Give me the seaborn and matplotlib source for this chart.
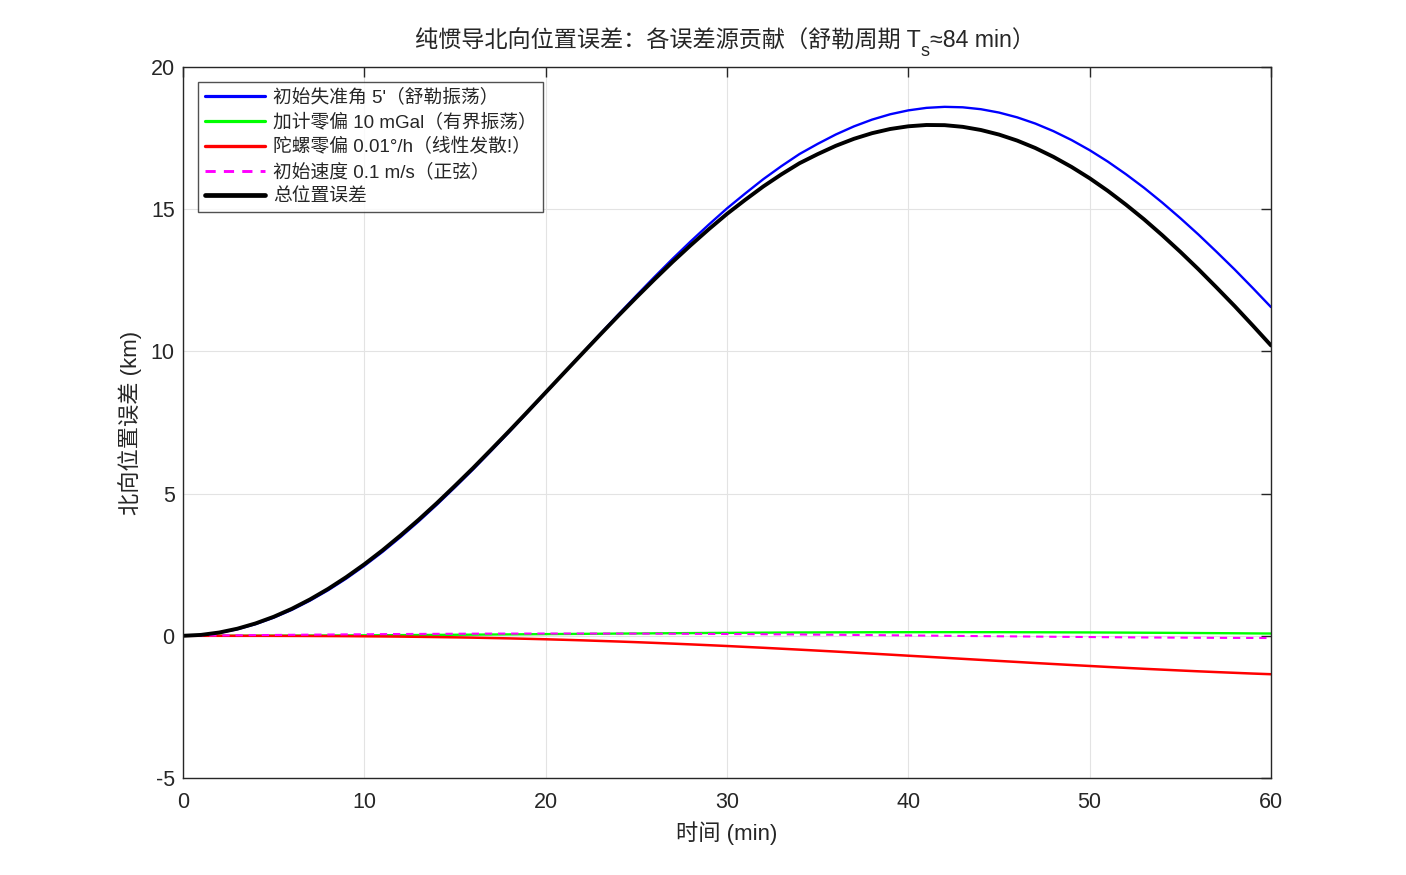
import pandas as pd
import seaborn as sns
import matplotlib.pyplot as plt

# time grid (min) and error curves (km), 1 min apart
t_min = list(range(0, 61))

err_misalign = [0.000, 0.026, 0.103, 0.231, 0.409, 0.637, 0.912, 1.235, 1.601, 2.010,
                2.461, 2.948, 3.473, 4.026, 4.610, 5.223, 5.851, 6.507, 7.172, 7.852,
                8.540, 9.232, 9.923, 10.612, 11.293, 11.962, 12.618, 13.257, 13.871, 14.461,
                15.028, 15.550, 16.055, 16.514, 16.941, 17.297, 17.627, 17.912, 18.150, 18.338,
                18.475, 18.563, 18.599, 18.583, 18.516, 18.398, 18.230, 18.012, 17.745, 17.432,
                17.075, 16.674, 16.230, 15.752, 15.234, 14.685, 14.108, 13.500, 12.877, 12.225,
                11.558]

err_accel = [0.000, 0.000, 0.001, 0.002, 0.003, 0.004, 0.006, 0.009, 0.011, 0.014,
             0.017, 0.020, 0.024, 0.028, 0.032, 0.036, 0.040, 0.045, 0.049, 0.054,
             0.059, 0.064, 0.068, 0.073, 0.078, 0.082, 0.087, 0.091, 0.095, 0.100,
             0.103, 0.107, 0.110, 0.114, 0.117, 0.119, 0.121, 0.123, 0.125, 0.126,
             0.127, 0.128, 0.128, 0.128, 0.127, 0.127, 0.125, 0.124, 0.122, 0.120,
             0.118, 0.115, 0.112, 0.108, 0.105, 0.101, 0.097, 0.093, 0.089, 0.084,
             0.080]

err_gyro = [0.000, -0.000, -0.000, -0.001, -0.001, -0.002, -0.004, -0.006, -0.009, -0.012,
            -0.017, -0.022, -0.028, -0.036, -0.045, -0.054, -0.065, -0.078, -0.091, -0.106,
            -0.122, -0.140, -0.159, -0.180, -0.201, -0.224, -0.249, -0.275, -0.302, -0.330,
            -0.359, -0.390, -0.421, -0.454, -0.487, -0.521, -0.555, -0.591, -0.627, -0.663,
            -0.700, -0.736, -0.773, -0.810, -0.847, -0.884, -0.920, -0.957, -0.992, -1.027,
            -1.061, -1.095, -1.128, -1.160, -1.190, -1.220, -1.249, -1.276, -1.302, -1.328,
            -1.351]

err_vel = [0.000, 0.006, 0.012, 0.018, 0.024, 0.029, 0.035, 0.040, 0.045, 0.050,
           0.054, 0.059, 0.063, 0.066, 0.069, 0.072, 0.075, 0.077, 0.078, 0.079,
           0.080, 0.080, 0.080, 0.079, 0.078, 0.077, 0.075, 0.073, 0.070, 0.067,
           0.063, 0.059, 0.055, 0.051, 0.046, 0.041, 0.036, 0.030, 0.025, 0.019,
           0.013, 0.007, 0.001, -0.005, -0.011, -0.017, -0.022, -0.028, -0.034, -0.039,
           -0.044, -0.049, -0.054, -0.058, -0.062, -0.065, -0.069, -0.072, -0.074, -0.076,
           -0.078]

err_total = [0.000, 0.032, 0.116, 0.250, 0.435, 0.668, 0.949, 1.278, 1.648, 2.062,
             2.515, 3.005, 3.532, 4.084, 4.666, 5.277, 5.901, 6.551, 7.208, 7.879,
             8.557, 9.236, 9.912, 10.585, 11.248, 11.897, 12.531, 13.147, 13.734, 14.298,
             14.835, 15.327, 15.799, 16.225, 16.617, 16.936, 17.229, 17.475, 17.673, 17.820,
             17.915, 17.961, 17.955, 17.896, 17.785, 17.624, 17.413, 17.152, 16.841, 16.486,
             16.088, 15.645, 15.160, 14.643, 14.087, 13.501, 12.887, 12.245, 11.590, 10.906,
             10.209]

labels = ["初始失准角 5'（舒勒振荡）",
          "加计零偏 10 mGal（有界振荡）",
          "陀螺零偏 0.01°/h（线性发散!）",
          "初始速度 0.1 m/s（正弦）",
          "总位置误差"]
series = [err_misalign, err_accel, err_gyro, err_vel, err_total]

frames = [pd.DataFrame({'t': t_min, 'err': s, 'src': lab}) for s, lab in zip(series, labels)]
df = pd.concat(frames, ignore_index=True)

sns.set_style("white")
plt.rcParams['font.family'] = ['Liberation Sans', 'Noto Sans CJK SC', 'DejaVu Sans']
plt.rcParams['axes.unicode_minus'] = False

fig = plt.figure(figsize=(14.06, 8.75), dpi=100)
ax = fig.add_axes([183 / 1406, 1 - 778 / 875, (1271 - 183) / 1406, (778 - 67) / 875])

colors = ['#0000ff', '#00ff00', '#ff0000', '#ff00ff', '#000000']
widths = [1.7, 1.7, 1.8, 1.5, 2.8]

for lab, c, lw in zip(labels, colors, widths):
    sub = df[df['src'] == lab]
    sns.lineplot(data=sub, x='t', y='err', color=c, lw=lw, label=lab, ax=ax)
    if lab == labels[3]:
        ax.lines[-1].set_dashes((3.5, 2.8))

ax.set_xlim(0, 60)
ax.set_ylim(-5, 20)
ax.set_xticks(range(0, 61, 10))
ax.set_yticks(range(-5, 21, 5))
ax.grid(True, color='#e3e3e3', lw=0.8)
for s in ax.spines.values():
    s.set_color('#262626')
    s.set_linewidth(1.0)
ax.tick_params(direction='in', length=7.5, width=1.0, top=True, right=True,
               labelsize=15.5, colors='#262626')
ax.tick_params(axis='x', pad=10)
ax.tick_params(axis='y', pad=6)

ax.set_xlabel('时间 (min)', fontsize=16, color='#262626', labelpad=6)
ax.set_ylabel('北向位置误差 (km)', fontsize=16, color='#262626', labelpad=6)

leg = ax.legend(loc='upper left', fontsize=13.5, frameon=True, fancybox=False,
                edgecolor='#262626', borderaxespad=0.8, handlelength=3.2,
                handletextpad=0.45, labelspacing=0.38, borderpad=0.35)
leg.get_frame().set_linewidth(1.0)
for h in leg.get_lines():
    h.set_linewidth(h.get_linewidth() + 0.6)

# title with subscript s, assembled from three pieces and centred over the axes
part_a = '纯惯导北向位置误差：各误差源贡献（舒勒周期 T'
part_b = 's'
part_c = '≈84 min）'
ta = fig.text(0, 1 - 48 / 875, part_a, fontsize=16.7, color='#262626', va='baseline')
tb = fig.text(0, 1 - 56 / 875, part_b, fontsize=13, color='#262626', va='baseline')
tc = fig.text(0, 1 - 48 / 875, part_c, fontsize=16.7, color='#262626', va='baseline')
fig.canvas.draw()
r = fig.canvas.get_renderer()
wa = ta.get_window_extent(r).width
wb = tb.get_window_extent(r).width
wc = tc.get_window_extent(r).width
x0 = 725 - (wa + wb + wc) / 2
ta.set_x(x0 / 1406)
tb.set_x((x0 + wa) / 1406)
tc.set_x((x0 + wa + wb) / 1406)

fig.savefig('out.png', dpi=100)
